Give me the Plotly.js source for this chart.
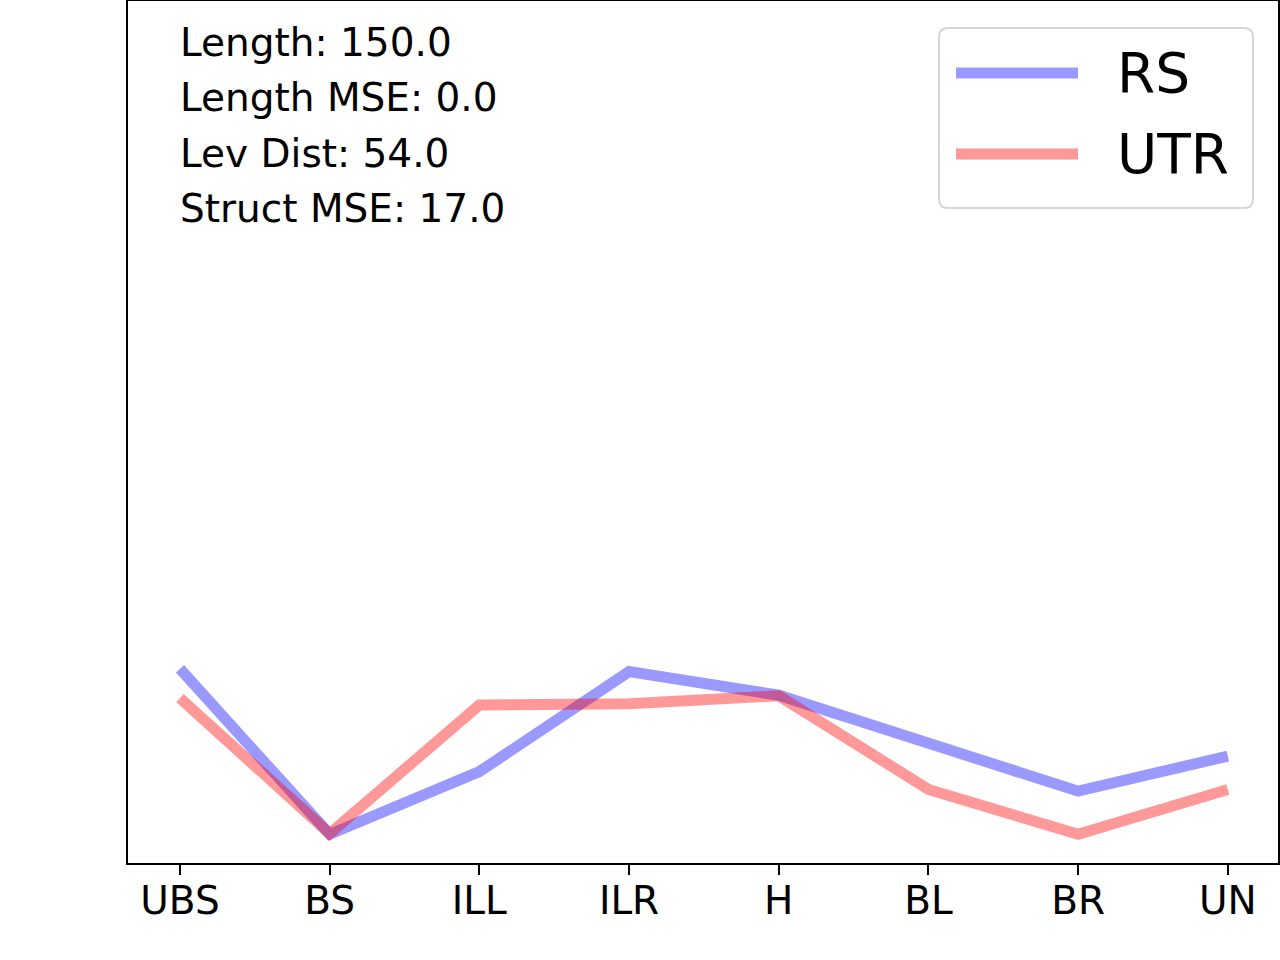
<!DOCTYPE html>
<html>
<head>
<meta charset="utf-8">
<script src="https://cdn.plot.ly/plotly-3.0.1.min.js"></script>
<style>
  html, body { margin: 0; padding: 0; background: #fff; }
  #chart { width: 1280px; height: 960px; }
</style>
</head>
<body>
<div id="chart"></div>
<script>
// ---------- data ----------
const categories = ["UBS", "BS", "ILL", "ILR", "H", "BL", "BR", "UN"];
const rsValues  = [33.8, 5.0, 15.9, 33.3, 29.2, 20.6, 12.5, 18.6];
const utrValues = [28.7, 5.1, 27.5, 27.7, 29.1, 12.8, 5.0, 12.8];
const seriesNames = ["RS", "UTR"];
const statLines = ["Length: 150.0", "Length MSE: 0.0", "Lev Dist: 54.0", "Struct MSE: 17.0"];

// ---------- style ----------
const FONT = "DejaVu Sans, sans-serif";
const BLUE = "rgba(0,0,255,0.4)";
const RED  = "rgba(255,0,0,0.4)";
const W = 1280, H = 960;
const M = { l: 128, r: 2, t: 1, b: 97 };
const plotW = W - M.l - M.r, plotH = H - M.t - M.b;

// pixel -> paper helpers (for legend box / text placement only)
const px = x => (x - M.l) / plotW;
const py = y => (H - M.b - y) / plotH;

const traces = [
  { x: categories, y: rsValues,  type: "scatter", mode: "lines", name: seriesNames[0],
    line: { color: BLUE, width: 11 }, showlegend: false, hoverinfo: "skip" },
  { x: categories, y: utrValues, type: "scatter", mode: "lines", name: seriesNames[1],
    line: { color: RED, width: 11 }, showlegend: false, hoverinfo: "skip" },
];

// stats text, top left
const annotations = statLines.map((t, i) => ({
  text: t, xref: "paper", yref: "paper",
  x: px(178), y: py(42 + i * 55.5),
  xanchor: "left", yanchor: "middle", showarrow: false,
  font: { family: FONT, size: 39, color: "#000" },
}));

// legend drawn by hand to get matplotlib-like proportions
function roundRect(x0, y0, x1, y1, r) {
  const rx = r / plotW, ry = r / plotH;
  const a = px(x0), b = px(x1), top = py(y0), bot = py(y1);
  return `M${a + rx},${top} L${b - rx},${top} Q${b},${top} ${b},${top - ry} ` +
         `L${b},${bot + ry} Q${b},${bot} ${b - rx},${bot} ` +
         `L${a + rx},${bot} Q${a},${bot} ${a},${bot + ry} ` +
         `L${a},${top - ry} Q${a},${top} ${a + rx},${top} Z`;
}
const legendColors = [BLUE, RED];
const legendRows = [73, 154];
const shapes = [
  { type: "path", xref: "paper", yref: "paper", path: roundRect(939, 28, 1253, 208, 9),
    fillcolor: "rgba(255,255,255,0.8)", line: { color: "rgba(204,204,204,0.8)", width: 2 } },
];
legendRows.forEach((yy, i) => {
  shapes.push({ type: "line", xref: "paper", yref: "paper",
    x0: px(956), x1: px(1078), y0: py(yy), y1: py(yy),
    line: { color: legendColors[i], width: 11 } });
  annotations.push({ text: seriesNames[i], xref: "paper", yref: "paper",
    x: px(1115), y: py(yy), xanchor: "left", yanchor: "middle", showarrow: false,
    font: { family: FONT, size: 55, color: "#000" } });
});

const layout = {
  width: W, height: H,
  margin: M,
  paper_bgcolor: "#fff", plot_bgcolor: "#fff",
  font: { family: FONT, color: "#000" },
  showlegend: false,
  xaxis: {
    type: "category", range: [-0.347, 7.335],
    showgrid: false, zeroline: false,
    showline: true, linecolor: "#000", linewidth: 2, mirror: true,
    ticks: "outside", ticklen: 10, tickwidth: 2, tickcolor: "#000",
    ticklabelstandoff: -8,
    tickfont: { family: FONT, size: 39, color: "#000" },
  },
  yaxis: {
    range: [0, 150],
    showgrid: false, zeroline: false, showticklabels: false, ticks: "",
    showline: true, linecolor: "#000", linewidth: 2, mirror: true,
  },
  shapes: shapes,
  annotations: annotations,
};

Plotly.newPlot("chart", traces, layout, { displayModeBar: false, staticPlot: true });
</script>
</body>
</html>
